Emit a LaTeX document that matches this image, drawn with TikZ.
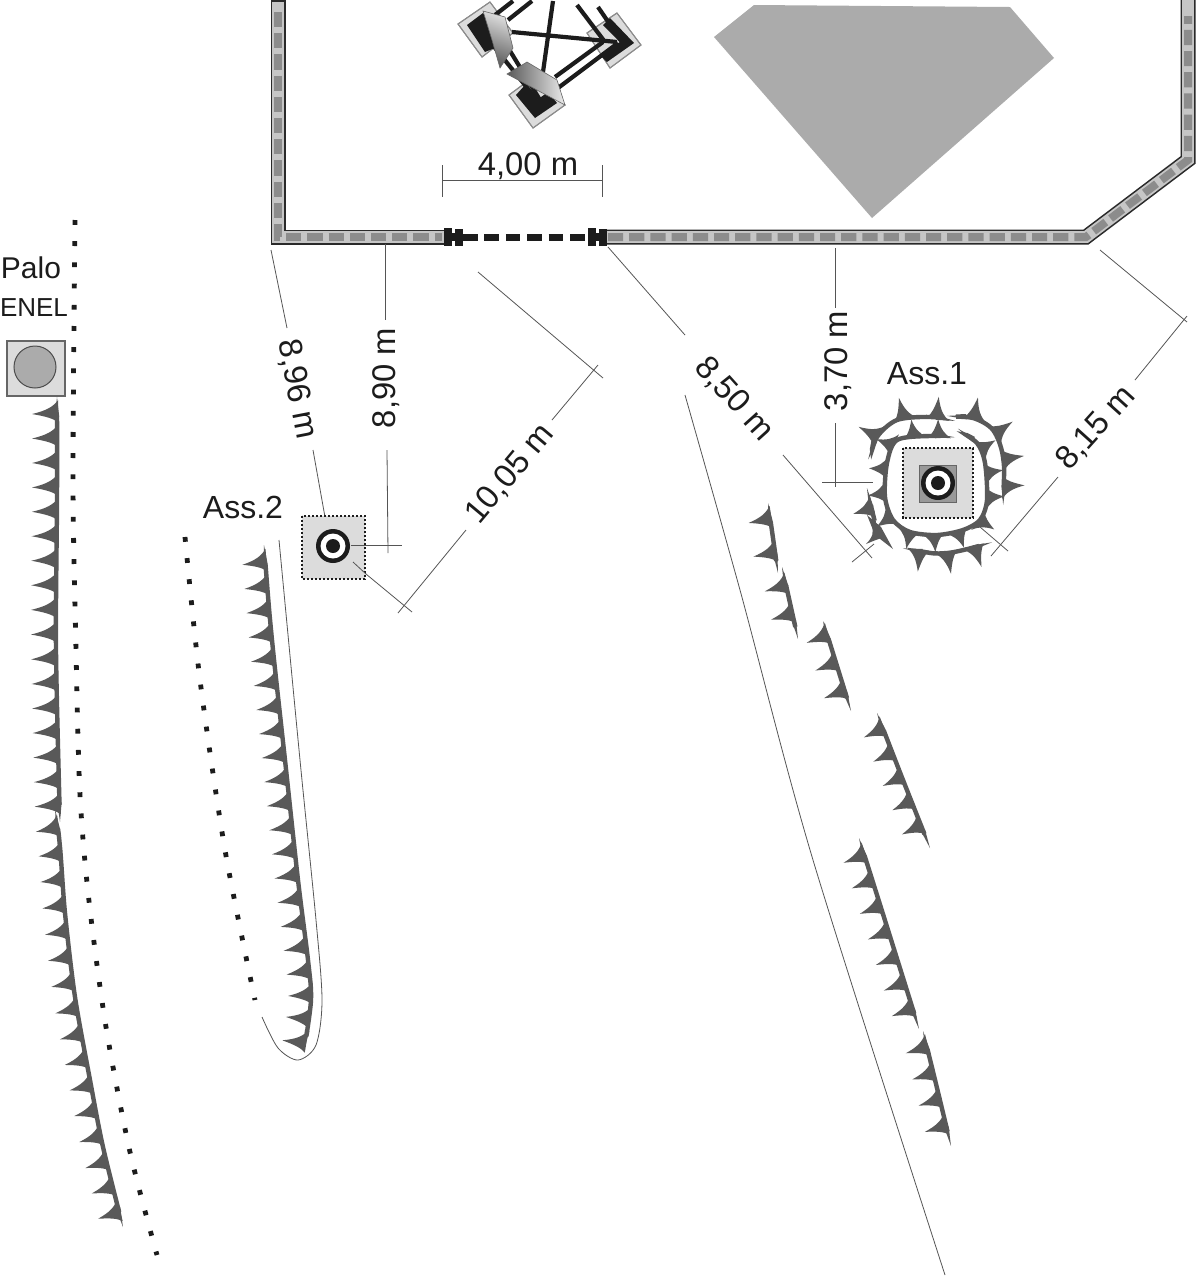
\documentclass[tikz,border=0pt]{standalone}
\usepackage{fontspec}
\setmainfont{Liberation Sans}
\usetikzlibrary{decorations.markings}
\definecolor{hc}{HTML}{595959}
\definecolor{blk}{HTML}{1C1C1C}
\definecolor{wallo}{HTML}{2A2A2A}
\definecolor{wallc}{HTML}{C6C6C6}
\definecolor{walld}{HTML}{8C8C8C}
\definecolor{pad}{HTML}{DCDCDC}
\definecolor{dimc}{HTML}{555555}
\tikzset{
  wallout/.style={line width=7.5pt,draw=wallo,miter limit=10,line join=miter},
  wallin/.style={line width=5.9pt,draw=wallc,line join=miter},
  walldash/.style={line width=4pt,draw=walld,dash pattern=on 7.6pt off 3pt,line join=miter},
  dotline/.style={line width=2.4pt,draw=blk,dash pattern=on 2.4pt off 8.2pt},
  dimline/.style={line width=.4pt,draw=dimc},
  dimtext/.style={font=\fontsize{16.4}{18}\selectfont,text=blk,inner sep=0pt},
  lab/.style={font=\fontsize{16}{18}\selectfont,text=blk,inner sep=0pt},
  plate/.style={fill=pad,draw=walld,line width=.5pt},
  thick line/.style={line width=2.1pt,draw=blk},
  dotbox/.style={fill=pad,draw=blk,line width=1.3pt,dash pattern=on 1.2pt off .8pt},
}
% first thorn (px), step (px), thorn length (px), coordinates
\newcommand\hedge[4]{%
  \draw[hc,line width=2.2pt,shorten <=9.5pt,shorten >=9.5pt] plot[smooth] coordinates {#4};
  \path[decorate,decoration={markings,
    mark=at position 9.5pt with {\fill[hc] (.3pt,1.1pt) -- (-9.5pt,0pt) -- (.3pt,-1.1pt) -- cycle;},
    mark=at position -9.5pt with {\fill[hc] (-.3pt,1.1pt) -- (9.5pt,0pt) -- (-.3pt,-1.1pt) -- cycle;}
  }] plot[smooth] coordinates {#4};
  \path[decorate,decoration={markings,
    mark=between positions #1*0.5pt and -3pt step #2*0.5pt with {\fill[hc]
      (-7pt,.6pt) .. controls (-3.6pt,{-#3*.08pt}) and (-1.8pt,{-#3*.2pt}) ..
      (0pt,{-#3*.5pt}) .. controls (1.2pt,{-#3*.22pt}) and (2.2pt,{-#3*.08pt}) ..
      (4.2pt,.6pt) -- cycle;}
  }] plot[smooth] coordinates {#4};
}
\begin{document}
\begin{tikzpicture}[x=.5pt,y=-.5pt]
\useasboundingbox (0,0) rectangle (1196,1276);
\fill[white] (0,0) rectangle (1196,1276);

% big polygon
\fill[fill=black!33] (714,37) -- (754,5) -- (1010,7) -- (1054,58) -- (872,218) -- cycle;

% walls
\path[wallout] (278,0) -- (278,237) -- (446,237);
\path[wallin] (278,2) -- (278,237) -- (444,237);
\path[walldash] (278,12) -- (278,237) -- (442,237);
\path[wallout] (604,237) -- (1086,237) -- (1188,160) -- (1188,0);
\path[wallin] (606,237) -- (1086,237) -- (1188,160) -- (1188,0);
\path[walldash] (608,237) -- (1086,237) -- (1188,160) -- (1188,16);
% gate
\draw[line width=3.5pt,draw=blk,dash pattern=on 7.3pt off 3.4pt] (463,237) -- (588,237);
\foreach \gx in {444,588}{
  \fill[blk] (\gx,228) rectangle +(8,18);
  \fill[blk] (\gx+11,229) rectangle +(8,17);
  \fill[blk] (\gx+6,233) rectangle +(8,8);
}

% top structure
\fill[plate] (458,24) -- (490,2) -- (513,33) -- (482,57) -- cycle;
\fill[plate] (587,33) -- (617,13) -- (641,45) -- (610,68) -- cycle;
\fill[plate] (509,95) -- (540,72) -- (565,105) -- (533,128) -- cycle;
\draw[plate,fill=none] (458,24) -- (490,2) -- (513,33) -- (482,57) -- cycle;
\draw[plate,fill=none] (587,33) -- (617,13) -- (641,45) -- (610,68) -- cycle;
\draw[plate,fill=none] (509,95) -- (540,72) -- (565,105) -- (533,128) -- cycle;
\fill[blk] (467,25) -- (483,13) -- (507,43) -- (485,52) -- cycle;
\fill[blk] (610,18) -- (634,43) -- (607,62) -- (600,55) -- (620,42) -- (603,25) -- cycle;
\fill[blk] (516,95) -- (535,118) -- (557,103) -- (548,92) -- (537,100) -- (525,85) -- cycle;
\draw[thick line] (513,1) -- (495,15);
\draw[thick line] (532,1) -- (508,20);
\draw[thick line] (553,1) -- (543,72);
\draw[thick line] (577,5) -- (605,42);
\draw[thick line] (598,7) -- (622,42);
\draw[thick line] (512,32) -- (617,42);
\draw[thick line] (555,77) -- (603,42);
\draw[thick line] (558,88) -- (618,43);
\draw[thick line] (483,33) -- (537,100);
\draw[thick line] (496,28) -- (540,100);
\shade[left color=black!65,right color=black!12,shading angle=160] (483,11) -- (505,17) -- (513,48) -- (500,68) -- (492,40) -- cycle;
\shade[left color=black!65,right color=black!8] (507,74) -- (527,62) -- (557,80) -- (565,105) -- cycle;
\draw[line width=.3pt,draw=black!60] (483,11) -- (505,17) -- (513,48) -- (500,68) -- (492,40) -- cycle;
\draw[line width=.3pt,draw=black!60] (507,74) -- (527,62) -- (557,80) -- (565,105) -- cycle;

% dimension lines
\draw[dimline] (442,180) -- (602,180);
\draw[dimline] (442,165) -- (442,197);
\draw[dimline] (602,165) -- (602,197);
\node[dimtext] (d400) at (528,166) {4,00 m};

\draw[dimline] (271,250) -- (287,328);
\draw[dimline] (313,450) -- (325,517);
\node[dimtext,rotate=-79] (d896) at (297,389) {8,96 m};

\draw[dimline] (385,244) -- (385,320);
\draw[dimline] (387,450) -- (388,553);
\node[dimtext,rotate=90] (d890) at (386,378) {8,90 m};

\draw[dimline] (478,272) -- (603,378);
\draw[dimline] (598,365) -- (552,420);
\draw[dimline] (466,530) -- (398,613);
\draw[dimline] (366,574) -- (412,612);
\node[dimtext,rotate=50] (d1005) at (510,474) {10,05 m};

\draw[dimline] (608,247) -- (685,335);
\draw[dimline] (783,455) -- (872,558);
\draw[dimline] (852,562) -- (874,544);
\node[dimtext,rotate=-48] (d850) at (734,399) {8,50 m};
\draw[dimline] plot[smooth] coordinates {(685,395) (740,590) (813,860) (945,1275)};

\draw[dimline] (835,248) -- (835,308);
\draw[dimline] (835,423) -- (835,487);
\draw[dimline] (822,482) -- (873,482);
\node[dimtext,rotate=90] (d370) at (838,361) {3,70 m};

\draw[dimline] (1100,250) -- (1187,322);
\draw[dimline] (1187,316) -- (1135,380);
\draw[dimline] (1058,477) -- (991,556);
\draw[dimline] (980,527) -- (1008,551);
\node[dimtext,rotate=48] (d815) at (1096,428) {8,15 m};

% labels
\node[lab] (ass1) at (927,374) {Ass.1};
\node[lab] (ass2) at (243,507) {Ass.2};
\node[lab,font=\fontsize{15}{16}\selectfont] (palo) at (31,268) {Palo};
\node[lab,font=\fontsize{13}{16}\selectfont] (enel) at (34,308) {ENEL};

% Palo ENEL
\draw[fill=pad,draw=black!60,line width=.6pt] (7,341) rectangle (65,396);
\draw[fill=black!33,draw=black!70,line width=.5pt] (35,367) circle (21);

% Ass.2
\path[dotbox] (302,516) rectangle (365,579);
\draw[dimline] (351,545) -- (402,545);
\draw[dimline] (353,562) -- (366,574);
\fill[blk] (333,546) circle (17);
\fill[white] (333,546) circle (12.5);
\fill[blk] (333,546) circle (7);

% Ass.1
\path[dotbox] (903,448) rectangle (973,518);
\draw[fill=black!40,draw=black!60,line width=.5pt] (919,465) rectangle (956,502);
\fill[blk] (938,483) circle (17);
\fill[white] (938,483) circle (12.5);
\fill[blk] (938,483) circle (7);

% dotted lines
\draw[dotline] plot[smooth] coordinates {(75,220) (73,480) (76,650) (80,795) (89,901) (106,1027) (130,1152) (157,1255)};
\draw[dotline] plot[smooth] coordinates {(185,537) (200,680) (225,850) (255,1000)};

% long hedges
\hedge{17}{24.5}{25}{(57,397) (57,500) (56,650) (60,822)}
\hedge{19}{26}{22}{(55,810) (60,847) (65,913) (75,997) (90,1080) (103,1147) (123,1227)}
\hedge{18}{24.2}{23}{(264,545) (272,640) (285,760) (298,880) (308,960) (311,1000) (304,1050)}
\draw[dimline] plot[smooth] coordinates {(279,540) (300,760) (316,920) (322,1000) (316,1045) (298,1060) (278,1048) (262,1017)};

% right hedges
\hedge{17}{34}{22}{(768,503) (773,538) (778,573)}
\hedge{20}{29}{22}{(782,567) (790,603) (798,639)}
\hedge{16}{29}{22}{(823,621) (837,666) (851,711)}
\hedge{18}{26}{21}{(877,713) (903,780) (930,848)}
\hedge{19}{26.8}{22}{(859,838) (888,930) (919,1029)}
\hedge{17.5}{27}{22}{(923,1031) (937,1088) (951,1146)}

% ring around Ass.1
\hedge{18}{24.5}{17}{(955,438) (930,436) (897,440) (887,463) (885,497) (893,520) (910,532) (937,535) (963,530) (980,520) (987,500) (985,463) (977,443) (957,430)}
\hedge{20}{33}{21}{(955,422) (930,417) (897,420) (877,437) (870,460)}
\hedge{20}{27}{21}{(1003,505) (1003,457) (993,430) (973,418) (947,417)}
\hedge{18}{28}{21}{(903,548) (947,553) (992,542)}
\hedge{22}{26}{19}{(867,488) (872,510) (877,530)}
\fill[hc] (867,515) -- (881,527) -- (893,549) -- (875,535) -- cycle;
\fill[hc] (871,524) .. controls (875,532) and (872,538) .. (866,544) .. controls (873,541) and (878,539) .. (885,537) -- cycle;
\end{tikzpicture}
\end{document}
